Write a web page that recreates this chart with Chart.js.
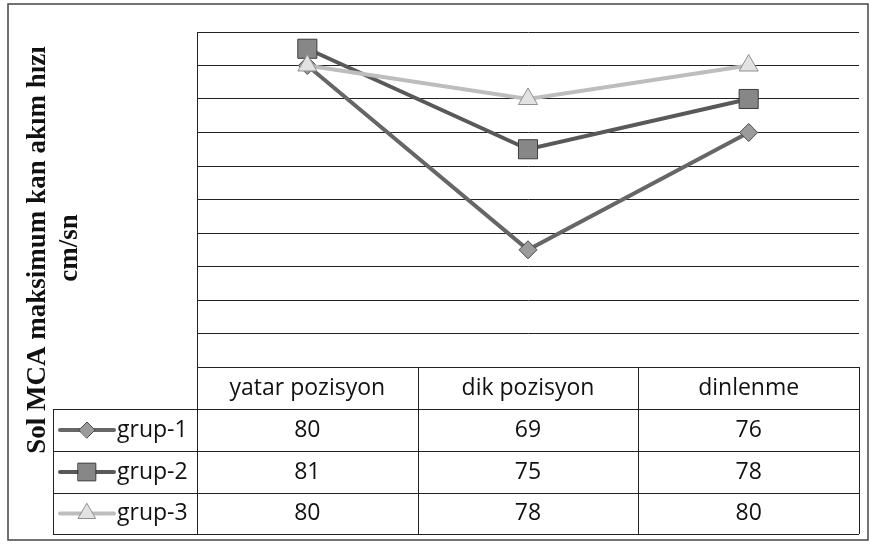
<!DOCTYPE html>
<html>
<head>
<meta charset="utf-8">
<script src="https://cdn.jsdelivr.net/npm/chart.js@4/dist/chart.umd.min.js"></script>
<style>
  html, body { margin: 0; padding: 0; background: #fff; }
  #wrap { width: 878px; height: 548px; }
</style>
</head>
<body>
<div id="wrap"><canvas id="chartMca" width="878" height="548"></canvas></div>
<script>
const positions = ['yatar pozisyon', 'dik pozisyon', 'dinlenme']
const grup1 = [80, 69, 76]
const grup2 = [81, 75, 78]
const grup3 = [80, 78, 80]
const groupNames = ['grup-1', 'grup-2', 'grup-3']
const axisTitle = ['Sol MCA maksimum kan akım hızı', 'cm/sn']

// row edges of the data table under the plot
const tableRows = [367, 409, 451, 493, 534]
const tableLeft = 53

var frameAndTable = {
    id: 'frameAndTable',
    beforeDraw: function (chart) {
        var ctx = chart.ctx
        ctx.save()
        ctx.fillStyle = '#fff'
        ctx.fillRect(0, 0, chart.width, chart.height)
        ctx.strokeStyle = '#444'
        ctx.lineWidth = 1.5
        ctx.strokeRect(8, 4, 860, 536)

        // rotated axis title
        ctx.fillStyle = '#111'
        ctx.font = 'bold 27px "Liberation Serif"'
        ctx.textAlign = 'center'
        ctx.textBaseline = 'middle'
        ctx.translate(38, 250)
        ctx.rotate(-Math.PI / 2)
        ctx.fillText(axisTitle[0], 0, 0)
        ctx.fillText(axisTitle[1], 2, 32)
        ctx.restore()
    },
    afterDraw: function (chart) {
        var ctx = chart.ctx
        var xs = chart.scales.x
        var area = chart.chartArea
        var cols = [area.left]
        for (var i = 0; i < positions.length - 1; i++) {
            cols.push((xs.getPixelForValue(i) + xs.getPixelForValue(i + 1)) / 2)
        }
        cols.push(area.right)

        ctx.save()
        ctx.strokeStyle = '#222'
        ctx.lineWidth = 1
        ctx.beginPath()
        // horizontal lines
        ctx.moveTo(area.left, tableRows[0] + 0.5)
        ctx.lineTo(area.right, tableRows[0] + 0.5)
        for (var r = 1; r < tableRows.length; r++) {
            ctx.moveTo(tableLeft, tableRows[r] + 0.5)
            ctx.lineTo(area.right, tableRows[r] + 0.5)
        }
        // vertical lines
        ctx.moveTo(tableLeft + 0.5, tableRows[1])
        ctx.lineTo(tableLeft + 0.5, tableRows[4])
        for (var c = 0; c < cols.length; c++) {
            var x = Math.round(cols[c]) + 0.5
            ctx.moveTo(x, tableRows[0])
            ctx.lineTo(x, tableRows[4])
        }
        ctx.stroke()

        ctx.fillStyle = '#111'
        ctx.font = '23px "Open Sans"'
        ctx.textAlign = 'center'
        ctx.textBaseline = 'middle'
        for (var i = 0; i < positions.length; i++) {
            var cx = xs.getPixelForValue(i)
            ctx.fillText(positions[i], cx, (tableRows[0] + tableRows[1]) / 2)
            chart.data.datasets.forEach(function (ds, k) {
                ctx.fillText(String(ds.data[i]), cx, (tableRows[k + 1] + tableRows[k + 2]) / 2)
            })
        }

        // legend keys inside the table
        chart.data.datasets.forEach(function (ds, k) {
            var y = (tableRows[k + 1] + tableRows[k + 2]) / 2
            ctx.strokeStyle = ds.borderColor
            ctx.lineWidth = 4
            ctx.lineCap = 'round'
            ctx.beginPath()
            ctx.moveTo(60, y)
            ctx.lineTo(114, y)
            ctx.stroke()
            ctx.fillStyle = ds.pointBackgroundColor
            ctx.strokeStyle = ds.pointBorderColor
            ctx.lineWidth = 1
            Chart.helpers.drawPoint(ctx, {
                pointStyle: ds.pointStyle,
                radius: ds.pointRadius - 1,
                rotation: 0,
                borderWidth: 1
            }, 87, y)
            ctx.fillStyle = '#111'
            ctx.textAlign = 'left'
            ctx.fillText(groupNames[k], 117, y)
            ctx.textAlign = 'center'
        })
        ctx.restore()
    }
}

var ctxMca = document.getElementById('chartMca').getContext('2d')
var chartMca = new Chart(ctxMca, {
    type: 'line',
    data: {
        labels: positions,
        datasets: [{
            label: groupNames[0],
            data: grup1,
            borderColor: '#666666',
            borderWidth: 4,
            pointStyle: 'rectRot',
            pointRadius: 9,
            pointBackgroundColor: '#9b9b9b',
            pointBorderColor: '#4a4a4a',
            pointBorderWidth: 1,
            order: 3
        }, {
            label: groupNames[1],
            data: grup2,
            borderColor: '#595959',
            borderWidth: 4,
            pointStyle: 'rect',
            pointRadius: 13.5,
            pointBackgroundColor: '#878787',
            pointBorderColor: '#3c3c3c',
            pointBorderWidth: 1,
            order: 2
        }, {
            label: groupNames[2],
            data: grup3,
            borderColor: '#bdbdbd',
            borderWidth: 4,
            pointStyle: 'triangle',
            pointRadius: 11,
            pointBackgroundColor: '#e2e2e2',
            pointBorderColor: '#8f8f8f',
            pointBorderWidth: 1,
            order: 1
        }]
    },
    options: {
        responsive: false,
        animation: false,
        layout: { padding: { left: 197, right: 19, top: 32, bottom: 181 } },
        plugins: {
            legend: { display: false },
            tooltip: { enabled: false }
        },
        scales: {
            x: {
                display: false,
                offset: true
            },
            y: {
                min: 62,
                max: 82,
                afterFit: function (scale) { scale.width = 0 },
                ticks: { display: false, stepSize: 2 },
                grid: { color: '#222', lineWidth: 1, drawTicks: false },
                border: { display: true, color: '#222', width: 1 }
            }
        }
    },
    plugins: [frameAndTable]
})
</script>
</body>
</html>
